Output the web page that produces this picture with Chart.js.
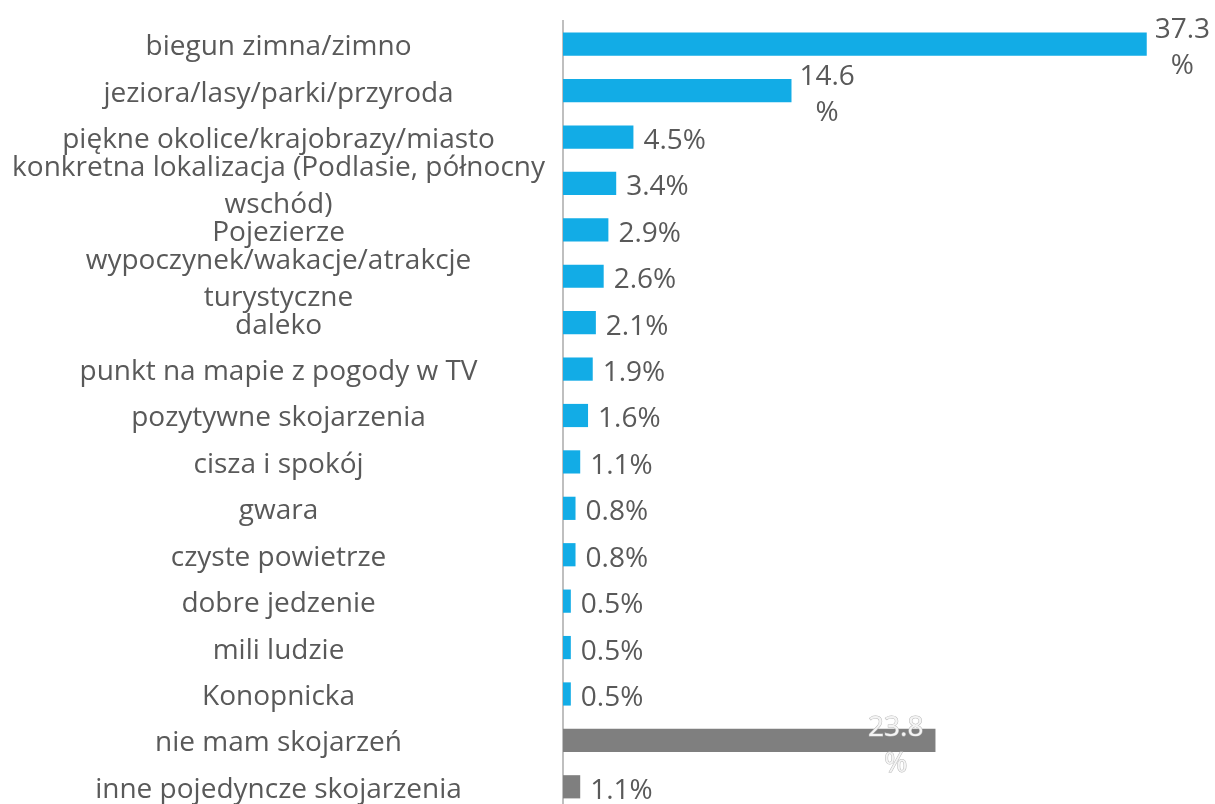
<!DOCTYPE html>
<html>
<head>
<meta charset="utf-8">
<script src="https://cdn.jsdelivr.net/npm/chart.js@4"></script>
<style>
html,body{margin:0;padding:0;background:#fff;overflow:hidden;}
#wrap{width:1215px;height:812px;}
</style>
</head>
<body>
<div id="wrap"><canvas id="c" width="1215" height="812"></canvas></div>
<script>
const categories = [
  'biegun zimna/zimno',
  'jeziora/lasy/parki/przyroda',
  'piękne okolice/krajobrazy/miasto',
  ['konkretna lokalizacja (Podlasie, północny', 'wschód)'],
  'Pojezierze',
  ['wypoczynek/wakacje/atrakcje', 'turystyczne'],
  'daleko',
  'punkt na mapie z pogody w TV',
  'pozytywne skojarzenia',
  'cisza i spokój',
  'gwara',
  'czyste powietrze',
  'dobre jedzenie',
  'mili ludzie',
  'Konopnicka',
  'nie mam skojarzeń',
  'inne pojedyncze skojarzenia'
];
const values = [37.3, 14.6, 4.5, 3.4, 2.9, 2.6, 2.1, 1.9, 1.6, 1.1, 0.8, 0.8, 0.5, 0.5, 0.5, 23.8, 1.1];
const neutralCategories = ['nie mam skojarzeń', 'inne pojedyncze skojarzenia'];
const axisMin = 0;
const axisMax = 40;

const BLUE = '#12ACE6';
const GREY = '#7F7F7F';
const TEXT = '#595959';
const FONT = '"Open Sans", "Noto Sans", sans-serif';

const isNeutral = categories.map(c => neutralCategories.includes(Array.isArray(c) ? c.join(' ') : c));

const labelPlugin = {
  id: 'valueLabels',
  afterDatasetsDraw(chart) {
    const ctx = chart.ctx;
    const meta = chart.getDatasetMeta(0);
    ctx.save();
    ctx.font = '28px ' + FONT;
    ctx.textBaseline = 'middle';
    meta.data.forEach((bar, i) => {
      const v = values[i];
      const num = v.toFixed(1);
      const y = bar.y;
      const end = bar.x;
      if (v > 20 && isNeutral[i]) {
        const w = ctx.measureText(num).width;
        const right = end - 12;
        const cx = right - w / 2;
        ctx.textAlign = 'center';
        ctx.lineWidth = 1;
        ctx.strokeStyle = '#b8b8b8';
        ctx.fillStyle = '#f4f4f4';
        ctx.strokeText(num, cx, y - 12);
        ctx.fillText(num, cx, y - 12);
        ctx.strokeText('%', cx, y + 24);
        ctx.fillText('%', cx, y + 24);
      } else if (v > 10) {
        const w = ctx.measureText(num).width;
        const left = end + 8;
        ctx.fillStyle = TEXT;
        ctx.textAlign = 'left';
        ctx.fillText(num, left, y - 14);
        ctx.textAlign = 'center';
        ctx.fillText('%', left + w / 2, y + 22);
      } else {
        ctx.fillStyle = TEXT;
        ctx.textAlign = 'left';
        ctx.fillText(num + '%', end + 10, y + 4);
      }
    });
    ctx.restore();
  }
};

new Chart(document.getElementById('c'), {
  type: 'bar',
  data: {
    labels: categories,
    datasets: [{
      data: values,
      backgroundColor: isNeutral.map(n => n ? GREY : BLUE),
      borderWidth: 0,
      barPercentage: 0.5,
      categoryPercentage: 1.0
    }]
  },
  options: {
    indexAxis: 'y',
    responsive: false,
    animation: false,
    events: [],
    layout: { padding: { top: 21, right: 26, bottom: 2, left: 0 } },
    plugins: { legend: { display: false }, tooltip: { enabled: false } },
    scales: {
      x: { display: false, min: axisMin, max: axisMax },
      y: {
        grid: { display: false },
        border: { display: true, color: '#BFBFBF', width: 2 },
        ticks: {
          color: TEXT,
          font: { family: FONT, size: 28, lineHeight: 1.32 },
          crossAlign: 'center',
          padding: 10,
          labelOffset: 3,
          autoSkip: false
        },
        afterFit(scale) {
          scale.width = 563;
          scale.paddingTop = 0;
          scale.paddingBottom = 0;
        }
      }
    }
  },
  plugins: [labelPlugin]
});
</script>
</body>
</html>
